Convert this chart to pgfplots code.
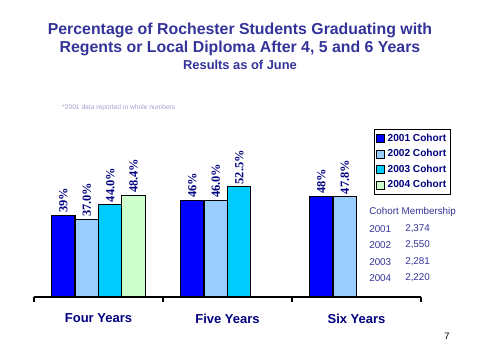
\documentclass[border=0pt]{standalone}
\usepackage{pgfplots}
\pgfplotsset{compat=1.18}
\usepackage{fontspec}
\setmainfont{Liberation Sans}
\newfontfamily\serifb{Liberation Serif}
\definecolor{c1}{HTML}{0000FF}
\definecolor{c2}{HTML}{99CCFF}
\definecolor{c3}{HTML}{00CCFF}
\definecolor{c4}{HTML}{CCFFCC}
\definecolor{ttl}{HTML}{333399}
\definecolor{nav}{HTML}{000080}
\definecolor{foot}{HTML}{A0A0D0}
\begin{document}
\begin{tikzpicture}
\useasboundingbox (0,0) rectangle (360pt,270pt);
\begin{axis}[
  at={(25.5pt,47.25pt)}, anchor=south west,
  scale only axis, width=290.25pt, height=126pt,
  xmin=-0.5, xmax=2.5, ymin=0, ymax=80,
  axis x line*=bottom, axis y line=none,
  x axis line style={-, line width=0.8pt},
  ybar=0pt, bar width=17.6pt,
  xtick={0,1,2}, xticklabels={Four Years,Five Years,Six Years},
  major tick length=0pt,
  minor xtick={-0.5,0.5,1.5,2.5}, minor tick length=3.75pt,
  tick style={black, line width=0.8pt}, tick align=outside,
  xticklabel style={font=\bfseries\fontsize{9.75}{11}\selectfont, text=nav, yshift=-9pt},
  point meta=explicit symbolic,
  nodes near coords,
  nodes near coords style={rotate=90, anchor=west, font=\serifb\bfseries\fontsize{9.3}{10}\selectfont, text=nav, inner sep=1.5pt},
  every axis plot/.append style={draw=black, line width=0.8pt},
  legend style={at={(0.8786,1.0)}, anchor=north west, draw=black, line width=0.8pt,
     font=\bfseries\fontsize{7.6}{9}\selectfont, text=nav, inner sep=1.4pt,
     row sep=0.6pt, cells={anchor=west}},
  legend image code/.code={\draw[#1, thin] (0pt,-3pt) rectangle (6pt,3pt);},
  clip=false,
]
\addplot[fill=c1] coordinates {(0,39) [39\%] (1,46) [46\%] (2,48) [48\%]};
\addplot[fill=c2] coordinates {(0,37.0) [37.0\%] (1,46.0) [46.0\%] (2,47.8) [47.8\%]};
\addplot[fill=c3] coordinates {(0,44.0) [44.0\%] (1,52.5) [52.5\%]};
\addplot[fill=c4] coordinates {(0,48.4) [48.4\%]};
\legend{2001 Cohort,2002 Cohort,2003 Cohort,2004 Cohort}
\end{axis}
\node[text=ttl, font=\bfseries\fontsize{11.9}{13}\selectfont] at (180pt,247.5pt) {Percentage of Rochester Students Graduating with};
\node[text=ttl, font=\bfseries\fontsize{11.9}{13}\selectfont] at (180pt,234pt) {Regents or Local Diploma After 4, 5 and 6 Years};
\node[text=ttl, font=\bfseries\fontsize{9.65}{11}\selectfont] at (180pt,221.5pt) {Results as of June};
\node[text=foot, font=\fontsize{5}{6}\selectfont, anchor=west, inner sep=0pt] at (46.5pt,189pt) {*2001 data reported in whole numbers};
\begin{scope}[every node/.style={text=ttl, font=\fontsize{7.4}{8}\selectfont, anchor=west, inner sep=0pt}]
\node at (276.75pt,111pt) {Cohort Membership};
\node at (276.75pt,98.25pt) {2001}; \node at (303.75pt,98.25pt) {2,374};
\node at (276.75pt,86.25pt) {2002}; \node at (303.75pt,86.25pt) {2,550};
\node at (276.75pt,73.5pt) {2003}; \node at (303.75pt,73.5pt) {2,281};
\node at (276.75pt,61.5pt) {2004}; \node at (303.75pt,61.5pt) {2,220};
\end{scope}
\node[font=\fontsize{7}{8}\selectfont, inner sep=0pt] at (335.25pt,18pt) {7};
\end{tikzpicture}
\end{document}
